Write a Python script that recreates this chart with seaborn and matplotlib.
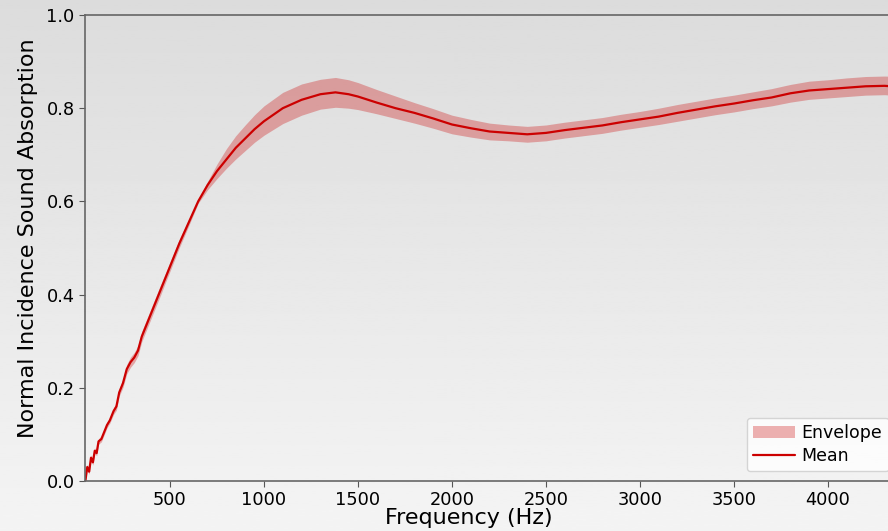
import matplotlib
matplotlib.use("Agg")
import matplotlib.pyplot as plt
import seaborn as sns
import numpy as np
import pandas as pd

freq = [50, 60, 70, 80, 90, 100, 110, 120, 135, 150, 165, 180, 200, 215, 230,
        250, 270, 290, 310, 330, 350, 375, 400, 425, 450, 475, 500, 550, 600,
        650, 700, 750, 800, 850, 900, 950, 1000, 1100, 1200, 1300, 1380, 1450,
        1500, 1600, 1700, 1800, 1900, 2000, 2100, 2200, 2300, 2400, 2500, 2600,
        2700, 2800, 2900, 3000, 3100, 3200, 3300, 3400, 3500, 3600, 3700, 3800,
        3900, 4000, 4100, 4200, 4300, 4380]
mean = [0.0, 0.03, 0.02, 0.05, 0.04, 0.065, 0.06, 0.085, 0.09, 0.105, 0.12,
        0.13, 0.15, 0.16, 0.19, 0.21, 0.24, 0.255, 0.265, 0.28, 0.31, 0.335,
        0.36, 0.385, 0.41, 0.435, 0.46, 0.51, 0.555, 0.60, 0.635, 0.665, 0.69,
        0.715, 0.735, 0.755, 0.772, 0.80, 0.818, 0.83, 0.834, 0.83, 0.825,
        0.812, 0.80, 0.79, 0.778, 0.765, 0.757, 0.75, 0.747, 0.744, 0.747,
        0.753, 0.758, 0.763, 0.77, 0.776, 0.782, 0.79, 0.797, 0.804, 0.81,
        0.817, 0.823, 0.832, 0.838, 0.841, 0.844, 0.847, 0.848, 0.846]
upper = [0.007, 0.036, 0.026, 0.056, 0.046, 0.071, 0.066, 0.091, 0.096,
         0.111, 0.126, 0.136, 0.157, 0.168, 0.198, 0.219, 0.25, 0.266, 0.276,
         0.291, 0.321, 0.346, 0.371, 0.396, 0.421, 0.445, 0.47, 0.519, 0.562,
         0.604, 0.643, 0.68, 0.713, 0.741, 0.764, 0.786, 0.805, 0.834, 0.852,
         0.862, 0.866, 0.861, 0.855, 0.84, 0.826, 0.812, 0.799, 0.785, 0.776,
         0.768, 0.764, 0.761, 0.764, 0.77, 0.775, 0.78, 0.787, 0.793, 0.8,
         0.808, 0.815, 0.822, 0.828, 0.835, 0.842, 0.851, 0.858, 0.861, 0.865,
         0.868, 0.869, 0.868]
lower = [0.0, 0.024, 0.014, 0.044, 0.034, 0.059, 0.054, 0.079, 0.084, 0.099,
         0.114, 0.124, 0.143, 0.152, 0.182, 0.201, 0.23, 0.244, 0.254, 0.269,
         0.299, 0.324, 0.349, 0.374, 0.399, 0.425, 0.45, 0.501, 0.548, 0.596,
         0.625, 0.649, 0.671, 0.691, 0.709, 0.727, 0.742, 0.767, 0.785, 0.798,
         0.802, 0.800, 0.797, 0.788, 0.778, 0.768, 0.757, 0.745, 0.738, 0.732,
         0.73, 0.727, 0.73, 0.736, 0.741, 0.746, 0.753, 0.759, 0.765, 0.772,
         0.779, 0.786, 0.792, 0.799, 0.805, 0.813, 0.819, 0.822, 0.825, 0.828,
         0.829, 0.827]

df = pd.DataFrame({'Frequency': freq, 'Mean': mean,
                   'Lower': lower, 'Upper': upper})

sns.set_style("ticks")
plt.rcParams['font.family'] = ['DejaVu Sans']
plt.rcParams['text.color'] = 'black'
plt.rcParams['axes.labelcolor'] = 'black'
plt.rcParams['xtick.color'] = '#555555'
plt.rcParams['ytick.color'] = '#555555'
plt.rcParams['xtick.labelcolor'] = 'black'
plt.rcParams['ytick.labelcolor'] = 'black'

fig = plt.figure(figsize=(8.88, 5.31), dpi=100)

# Hintergrund mit Farbverlauf
bg = fig.add_axes([0, 0, 1, 1], zorder=-10)
grad = np.linspace(0.862, 0.957, 256).reshape(-1, 1)
bg.imshow(grad, aspect='auto', cmap='gray', vmin=0, vmax=1,
          extent=[0, 1, 1, 0])
bg.axis('off')

ax = fig.add_axes([85 / 888, 50 / 531, 815 / 888, 466 / 531])
ax.set_facecolor('none')

ax.fill_between(df['Frequency'], df['Lower'], df['Upper'],
                color='#cc0000', alpha=0.3, linewidth=0, label='Envelope')
sns.lineplot(x='Frequency', y='Mean', data=df, ax=ax, color='#cc0000',
             linewidth=1.6, label='Mean')

ax.set_xlim(48, 4383)
ax.set_ylim(0, 1.0)
ax.set_xticks([500, 1000, 1500, 2000, 2500, 3000, 3500, 4000])
ax.set_yticks([0.0, 0.2, 0.4, 0.6, 0.8, 1.0])
ax.tick_params(labelsize=12.8, length=4)
for side in ['left', 'bottom', 'top', 'right']:
    ax.spines[side].set_visible(True)
    ax.spines[side].set_color('#666666')
    ax.spines[side].set_linewidth(1.2)

ax.set_xlabel('Frequency (Hz)', fontsize=16)
ax.set_ylabel('Normal Incidence Sound Absorption', fontsize=16)
ax.xaxis.set_label_coords((469 - 85) / 815, -(518 - 481) / 466)
ax.yaxis.set_label_coords(-(85 - 28) / 815, (481 - 238) / 466)
ax.xaxis.label.set_va('center')
ax.yaxis.label.set_va('center')

ax.legend(loc='lower left', bbox_to_anchor=((747 - 85) / 815, 10 / 466),
          borderaxespad=0, fontsize=12.5, frameon=True, fancybox=True,
          handlelength=2.4, labelspacing=0.3, borderpad=0.35,
          handletextpad=0.4)

fig.savefig('out.png', dpi=100)
